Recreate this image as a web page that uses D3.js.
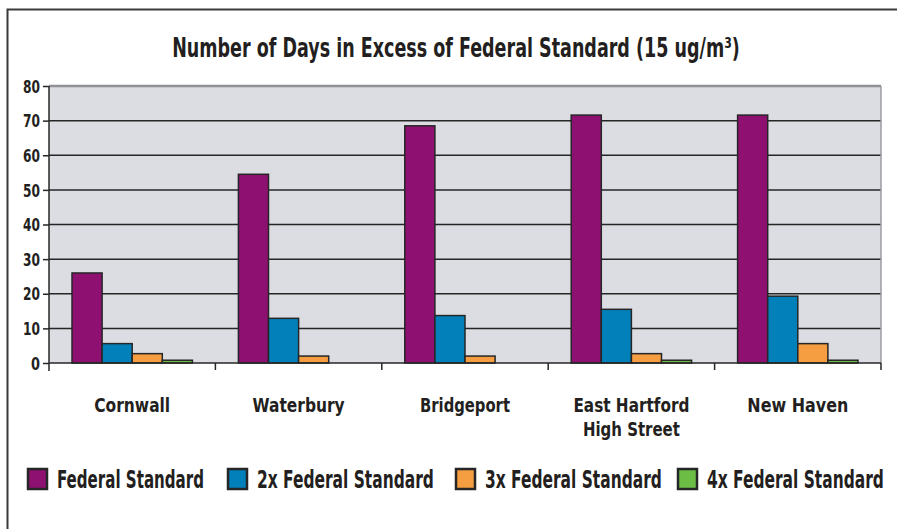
<!DOCTYPE html>
<html>
<head>
<meta charset="utf-8">
<script src="https://cdn.jsdelivr.net/npm/d3@7"></script>
<style>
  body { margin: 0; background: #fff; }
  svg text { font-family: "Liberation Sans Narrow", "DejaVu Sans Condensed", sans-serif; font-weight: bold; fill: #231f20; }
</style>
</head>
<body>
<div id="chart"></div>
<script>
var categories = [["Cornwall"], ["Waterbury"], ["Bridgeport"], ["East Hartford", "High Street"], ["New Haven"]];
var seriesNames = ["Federal Standard", "2x Federal Standard", "3x Federal Standard", "4x Federal Standard"];
var fed1x = [26, 54.5, 68.5, 71.6, 71.6];
var fed2x = [5.6, 12.9, 13.7, 15.5, 19.3];
var fed3x = [2.7, 2, 2, 2.7, 5.6];
var fed4x = [0.8, 0, 0, 0.8, 0.8];
var yTicks = [0, 10, 20, 30, 40, 50, 60, 70, 80];
var colors = ["#8e1171", "#0280ba", "#f49d41", "#6cbd45"];

var series = [fed1x, fed2x, fed3x, fed4x];
var width = 897, height = 529;
var plot = { left: 49, top: 86, right: 881, bottom: 363 };

// the reference uses a condensed face; squeeze text to its measured widths
var labelWidths = { "Cornwall": 76, "Waterbury": 92, "Bridgeport": 90, "East Hartford": 116, "High Street": 97, "New Haven": 101 };
var legendWidths = [147, 177, 177, 177];

// place a text at (x, y) and squeeze it horizontally to width w
function fitText(textSel, x, y, w) {
  textSel.each(function () {
    var t = d3.select(this).attr("x", 0).attr("y", 0);
    var natural = this.getComputedTextLength();
    var k = Math.min(1, w / natural);
    t.attr("transform", "translate(" + x + "," + y + ") scale(" + k + ",1)");
  });
}

var svg = d3.select("#chart").append("svg")
  .attr("width", width)
  .attr("height", height);

// outer frame (top and left edges only)
svg.append("path")
  .attr("d", "M7.5," + height + "V9.5H" + width)
  .attr("fill", "none")
  .attr("stroke", "#3a3a3a")
  .attr("stroke-width", 2);

var title = svg.append("text")
  .attr("text-anchor", "middle")
  .style("font-size", "27px")
  .text("Number of Days in Excess of Federal Standard (15 ug/m³)");
fitText(title, 456, 57, 568);

var x0 = d3.scaleBand()
  .domain(d3.range(categories.length))
  .range([plot.left, plot.right])
  .padding(0);

var x1 = d3.scaleBand()
  .domain(d3.range(series.length))
  .range([23, x0.bandwidth() - 23])
  .padding(0);

var y = d3.scaleLinear()
  .domain([0, 80])
  .range([plot.bottom, plot.top]);

// plot background
svg.append("rect")
  .attr("x", plot.left).attr("y", plot.top)
  .attr("width", plot.right - plot.left)
  .attr("height", plot.bottom - plot.top)
  .attr("fill", "#dcdde2");

// gridlines
svg.append("g").selectAll("line")
  .data(yTicks.filter(function (d) { return d > 0; }))
  .enter().append("line")
  .attr("x1", plot.left).attr("x2", plot.right)
  .attr("y1", function (d) { return y(d); })
  .attr("y2", function (d) { return y(d); })
  .attr("stroke", function (d) { return d === 80 ? "#8e9195" : "#262626"; })
  .attr("stroke-width", function (d) { return d === 80 ? 2.5 : 1.5; });

// right edge of the plot
svg.append("line")
  .attr("x1", plot.right).attr("x2", plot.right)
  .attr("y1", plot.top).attr("y2", plot.bottom)
  .attr("stroke", "#9a9ca0").attr("stroke-width", 1.5);

// bars
var groups = svg.append("g").selectAll("g")
  .data(categories)
  .enter().append("g")
  .attr("transform", function (d, i) { return "translate(" + x0(i) + ",0)"; });

groups.selectAll("rect")
  .data(function (d, i) { return series.map(function (s, j) { return { s: j, v: s[i] }; }); })
  .enter().filter(function (d) { return d.v > 0; }).append("rect")
  .attr("x", function (d) { return x1(d.s); })
  .attr("y", function (d) { return y(d.v); })
  .attr("width", x1.bandwidth())
  .attr("height", function (d) { return y(0) - y(d.v); })
  .attr("fill", function (d) { return colors[d.s]; })
  .attr("stroke", "#262626")
  .attr("stroke-width", 1.5);

// y axis
var yAxis = svg.append("g")
  .attr("transform", "translate(" + plot.left + ",0)")
  .call(d3.axisLeft(y).tickValues(yTicks).tickSize(6).tickPadding(3));
yAxis.select(".domain").remove();
yAxis.selectAll(".tick line").attr("stroke", "#262626").attr("stroke-width", 1.5);
yAxis.selectAll(".tick text")
  .style("font-size", "17px")
  .attr("dy", "0.36em")
  .each(function (d) {
    fitText(d3.select(this), -9, 0, d === 0 ? 9 : 17);
  });
svg.append("line")
  .attr("x1", plot.left).attr("x2", plot.left)
  .attr("y1", plot.top).attr("y2", plot.bottom + 8)
  .attr("stroke", "#262626").attr("stroke-width", 1.5);

// x axis line and boundary ticks
svg.append("line")
  .attr("x1", plot.left).attr("x2", plot.right)
  .attr("y1", plot.bottom).attr("y2", plot.bottom)
  .attr("stroke", "#262626").attr("stroke-width", 1.5);
svg.append("g").selectAll("line")
  .data(d3.range(1, categories.length + 1))
  .enter().append("line")
  .attr("x1", function (i) { return plot.left + i * x0.step(); })
  .attr("x2", function (i) { return plot.left + i * x0.step(); })
  .attr("y1", plot.bottom).attr("y2", plot.bottom + 7)
  .attr("stroke", "#262626").attr("stroke-width", 1.5);

// category labels, one text per line
categories.forEach(function (lines, i) {
  svg.append("g").selectAll("text")
    .data(lines)
    .enter().append("text")
    .attr("text-anchor", "middle")
    .style("font-size", "20px")
    .text(function (d) { return d; })
    .each(function (d, k) {
      fitText(d3.select(this), x0(i) + x0.bandwidth() / 2, 412 + k * 23.6, labelWidths[d]);
    });
});

// legend
var legendX = [27, 227, 455, 677];
var legend = svg.append("g").selectAll("g")
  .data(seriesNames)
  .enter().append("g")
  .attr("transform", function (d, i) { return "translate(" + legendX[i] + ",468)"; });
legend.append("rect")
  .attr("x", 1).attr("y", 1)
  .attr("width", 19).attr("height", 20)
  .attr("fill", function (d, i) { return colors[i]; })
  .attr("stroke", "#262626").attr("stroke-width", 2.5);
legend.append("text")
  .style("font-size", "24px")
  .text(function (d) { return d; })
  .each(function (d, i) {
    fitText(d3.select(this), 30, 20, legendWidths[i]);
  });
</script>
</body>
</html>
